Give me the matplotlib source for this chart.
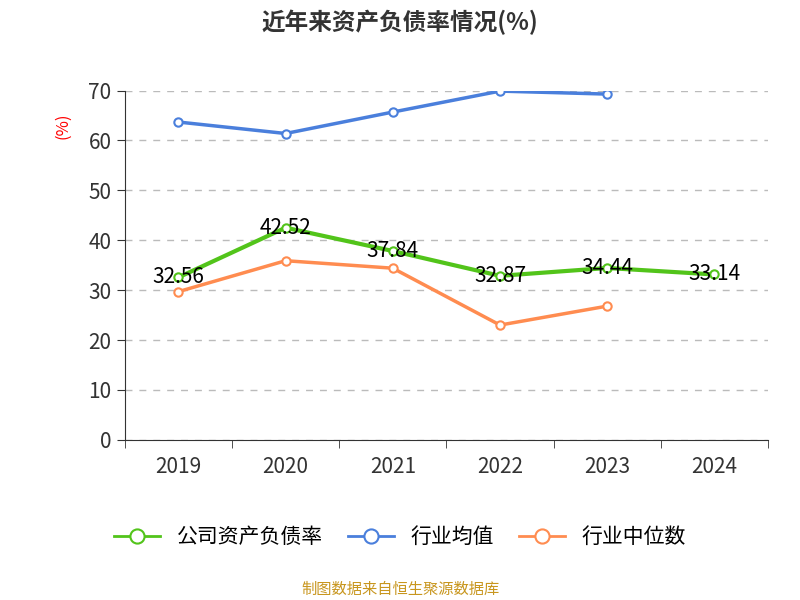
import numpy as np
import matplotlib.pyplot as plt
from matplotlib import font_manager

names = {f.name for f in font_manager.fontManager.ttflist}
cjk = [n for n in ['Noto Sans CJK SC', 'Noto Sans CJK JP', 'Noto Sans CJK TC', 'Noto Sans CJK KR'] if n in names]
plt.rcParams['font.family'] = 'sans-serif'
plt.rcParams['font.sans-serif'] = cjk + ['DejaVu Sans']

years = ['2019', '2020', '2021', '2022', '2023', '2024']
company = [32.56, 42.52, 37.84, 32.87, 34.44, 33.14]
industry_avg = [63.7, 61.4, 65.7, 69.9, 69.3]
industry_median = [29.7, 35.9, 34.4, 23.0, 26.8]

fig = plt.figure(figsize=(8, 6), dpi=100)
ax = fig.add_axes([0.156, 0.267, 0.804, 0.582])

x = np.arange(len(years))
mk = dict(marker='o', markersize=6, markerfacecolor='white', markeredgewidth=1.5)
ax.plot(x, company, color='#52c41a', linewidth=3, label='公司资产负债率', **mk)
ax.plot(x[:5], industry_avg, color='#4a7fdc', linewidth=2.5, label='行业均值', **mk)
ax.plot(x[:5], industry_median, color='#ff8c50', linewidth=2.5, label='行业中位数', **mk)

for xi, v in zip(x, company):
    ax.text(xi, v, f'{v:.2f}', ha='center', va='center', fontsize=15, color='black')

ax.set_xlim(-0.5, 5.5)
ax.set_ylim(0, 70)
ax.set_yticks(range(0, 71, 10))
ax.set_xticks(x)
ax.set_xticklabels(years)
ax.set_xticks(np.arange(-0.5, 6, 1), minor=True)
ax.tick_params(axis='x', which='major', length=0, labelsize=15, colors='#333333', pad=12)
ax.tick_params(axis='x', which='minor', length=6, color='#333333')
ax.tick_params(axis='y', labelsize=15, colors='#333333', length=6)
ax.grid(axis='y', linestyle=(0, (5, 5)), color='#bbbbbb', linewidth=1)
for s in ['top', 'right']:
    ax.spines[s].set_visible(False)
ax.spines['left'].set_color('#333333')
ax.spines['bottom'].set_color('#333333')

fig.text(0.078, 0.79, '(%)', color='red', fontsize=12, rotation=90, ha='center', va='center')
fig.text(0.5, 0.963, '近年来资产负债率情况(%)', fontsize=17, fontweight='bold', ha='center', va='center', color='#333333')
leg = ax.legend(loc='center', ncol=3, frameon=False, fontsize=15, markerscale=1.7,
                handlelength=2.2, columnspacing=1.2)
leg.set_bbox_to_anchor((0.5, 0.105), transform=fig.transFigure)
for line in leg.get_lines():
    line.set_linewidth(2)
fig.text(0.5, 0.017, '制图数据来自恒生聚源数据库', fontsize=11, color='#c8961e', ha='center', va='center')

fig.savefig('out.png', dpi=100)
